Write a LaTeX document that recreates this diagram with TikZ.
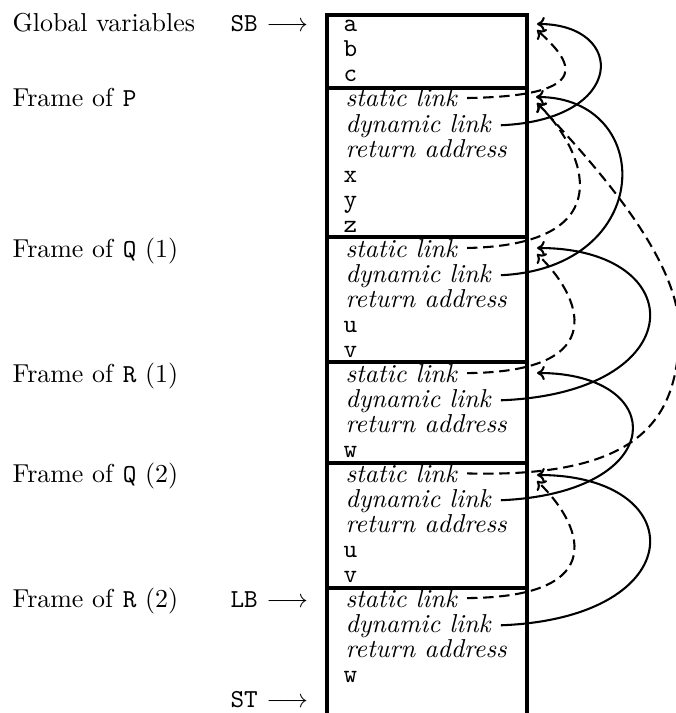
\documentclass[tikz,border=0pt]{standalone}
\usetikzlibrary{arrows.meta}
\begin{document}
\begin{tikzpicture}[x=0.386pt,y=-0.386pt,
  txt/.style={anchor=base west,inner sep=0pt},
  slot/.style={txt,font=\ttfamily},
  lnk/.style={txt,font=\itshape},
  frameline/.style={line width=1.2pt},
  dynlink/.style={line width=0.8pt,-{To[length=3pt,width=5.5pt]},shorten <=3.8pt},
  statlink/.style={dynlink,dash pattern=on 4pt off 2.2pt},
]
\useasboundingbox (0,0) rectangle (676,713);

% the stack, open at its top end (bottom of the page)
\draw[frameline] (327,713) -- (327,15) -- (527,15) -- (527,713);
\foreach \y in {88,237,362,463,588}
  \draw[frameline] (327,\y) -- (527,\y);

% frame names
\node[txt] (lglob) at (12,32)  {Global variables};
\node[txt] (lP)    at (12,107) {Frame of \texttt{P}};
\node[txt] (lQa)   at (12,257) {Frame of \texttt{Q} (1)};
\node[txt] (lRa)   at (12,382) {Frame of \texttt{R} (1)};
\node[txt] (lQb)   at (12,482) {Frame of \texttt{Q} (2)};
\node[txt] (lRb)   at (12,607) {Frame of \texttt{R} (2)};

% registers
\node[txt] (sb) at (230,32)  {\texttt{SB} $\longrightarrow$};
\node[txt] (lb) at (230,607) {\texttt{LB} $\longrightarrow$};
\node[txt] (st) at (230,707) {\texttt{ST} $\longrightarrow$};

% globals
\node[slot] (ga) at (343,32) {a};
\node[slot] (gb) at (343,57) {b};
\node[slot] (gc) at (343,82) {c};

% frame of P
\node[lnk]  (psl) at (345,107) {static link};
\node[lnk]  (pdl) at (345,132) {dynamic link};
\node[lnk]  (pra) at (345,157) {return address};
\node[slot] (px)  at (343,182) {x};
\node[slot] (py)  at (343,207) {y};
\node[slot] (pz)  at (343,232) {z};

% frame of Q (1)
\node[lnk]  (qasl) at (345,257) {static link};
\node[lnk]  (qadl) at (345,282) {dynamic link};
\node[lnk]  (qara) at (345,307) {return address};
\node[slot] (qau)  at (343,332) {u};
\node[slot] (qav)  at (343,357) {v};

% frame of R (1)
\node[lnk]  (rasl) at (345,382) {static link};
\node[lnk]  (radl) at (345,407) {dynamic link};
\node[lnk]  (rara) at (345,432) {return address};
\node[slot] (raw)  at (343,457) {w};

% frame of Q (2)
\node[lnk]  (qbsl) at (345,482) {static link};
\node[lnk]  (qbdl) at (345,507) {dynamic link};
\node[lnk]  (qbra) at (345,532) {return address};
\node[slot] (qbu)  at (343,557) {u};
\node[slot] (qbv)  at (343,582) {v};

% frame of R (2)
\node[lnk]  (rbsl) at (345,607) {static link};
\node[lnk]  (rbdl) at (345,632) {dynamic link};
\node[lnk]  (rbra) at (345,657) {return address};
\node[slot] (rbw)  at (343,682) {w};

% link targets at the head of each frame
\coordinate (gS)  at (537,24);
\coordinate (gD)  at (537,30);
\coordinate (pS)  at (536,97);
\coordinate (pD)  at (537,103);
\coordinate (qaS) at (537,248);
\coordinate (qaD) at (537,254);
\coordinate (raS) at (537,373);
\coordinate (qbS) at (537,475);
\coordinate (qbD) at (537,481);

% static links
\draw[statlink] (psl.east)  .. controls (600,96)  and (570,60)  .. (gD);
\draw[statlink] (qasl.east) .. controls (625,245) and (585,150) .. (pD);
\draw[statlink] (rasl.east) .. controls (615,372) and (580,295) .. (qaD);
\draw[statlink] (qbsl.east) .. controls (640,478) and (679,420) .. (679,330)
                            .. controls (679,260) and (600,170) .. (pD);
\draw[statlink] (rbsl.east) .. controls (615,597) and (580,522) .. (qbD);

% dynamic links
\draw[dynlink] (pdl.east)  .. controls (627,120) and (627,24)  .. (gS);
\draw[dynlink] (qadl.east) .. controls (656,268) and (656,97)  .. (pS);
\draw[dynlink] (radl.east) .. controls (693,393) and (693,248) .. (qaS);
\draw[dynlink] (qbdl.east) .. controls (670,493) and (670,373) .. (raS);
\draw[dynlink] (rbdl.east) .. controls (693,618) and (693,475) .. (qbS);
\end{tikzpicture}
\end{document}
